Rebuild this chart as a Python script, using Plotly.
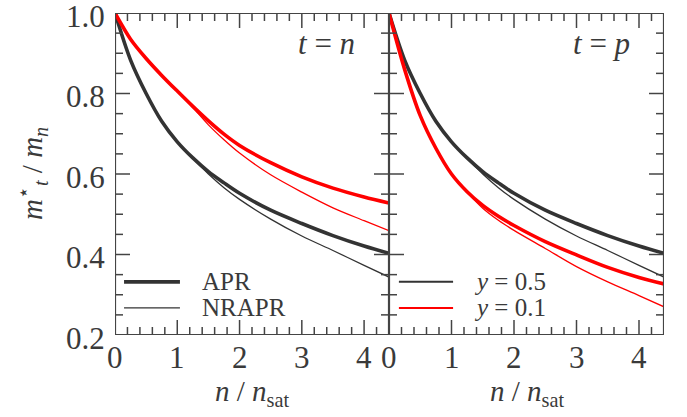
import plotly.graph_objects as go

# density grid n / n_sat
density = [0, 0.25, 0.5, 0.75, 1, 1.25, 1.5, 1.75, 2, 2.5, 3, 3.5, 4, 4.4]

# effective mass ratios, symmetric matter (y = 0.5): identical for t = n and t = p
apr_sym = [1.0, 0.883, 0.80, 0.731, 0.68, 0.64, 0.606, 0.578, 0.552, 0.51, 0.477, 0.447, 0.421, 0.403]
nrapr_sym = [1.0, 0.883, 0.80, 0.731, 0.679, 0.639, 0.60, 0.566, 0.537, 0.488, 0.446, 0.41, 0.373, 0.344]

# neutron-rich matter (y = 0.1)
apr_n_y01 = [1.0, 0.935, 0.887, 0.845, 0.806, 0.768, 0.732, 0.699, 0.671, 0.628, 0.593, 0.565, 0.543, 0.528]
nrapr_n_y01 = [1.0, 0.935, 0.887, 0.845, 0.805, 0.765, 0.722, 0.685, 0.652, 0.598, 0.555, 0.516, 0.484, 0.459]
apr_p_y01 = [1.0, 0.86, 0.745, 0.664, 0.60, 0.556, 0.522, 0.495, 0.472, 0.432, 0.399, 0.368, 0.343, 0.327]
nrapr_p_y01 = [1.0, 0.86, 0.745, 0.664, 0.60, 0.555, 0.515, 0.485, 0.46, 0.415, 0.37, 0.332, 0.298, 0.27]

x_ticks = [0, 1, 2, 3, 4]
x_tick_labels = ["0", "1", "2", "3", "4"]
y_ticks = [0.2, 0.4, 0.6, 0.8, 1.0]
y_tick_labels = ["0.2", "0.4", "0.6", "0.8", "1.0"]
X_MAX = 4.4
Y_MIN, Y_MAX = 0.2, 1.0

DARK = "#333333"
RED = "#ff0000"
FRAME = "#444444"
TEXT = "#3a3a3a"
FONT = "Liberation Serif"
THICK, THIN = 3.6, 1.3

# figure geometry (pixels)
W, H = 687, 417
ML, MR, MT, MB = 115, 23, 13, 82
PLOT_W, PLOT_H = W - ML - MR, H - MT - MB
split = 274 / PLOT_W
MAJOR_LEN, MINOR_LEN = 15, 8

fig = go.Figure()

panels = [
    ("x", "y", [0, split], apr_n_y01, nrapr_n_y01, "<i>t</i> = <i>n</i>"),
    ("x2", "y2", [split, 1], apr_p_y01, nrapr_p_y01, "<i>t</i> = <i>p</i>"),
]

for xa, ya, dom, a_y01, n_y01, _ in panels:
    for vals, color, width in [
        (nrapr_sym, DARK, THIN),
        (apr_sym, DARK, THICK),
        (n_y01, RED, THIN),
        (a_y01, RED, THICK),
    ]:
        fig.add_trace(go.Scatter(
            x=density, y=vals, xaxis=xa, yaxis=ya, mode="lines",
            line=dict(color=color, width=width, shape="spline", smoothing=0.9),
            showlegend=False, hoverinfo="skip",
        ))

axis_off = dict(showline=False, ticks="", showticklabels=False, showgrid=False, zeroline=False)
fig.update_layout(
    width=W, height=H,
    margin=dict(l=ML, r=MR, t=MT, b=MB),
    plot_bgcolor="white", paper_bgcolor="white",
    font=dict(family=FONT, color=TEXT),
    showlegend=False,
    xaxis=dict(axis_off, range=[0, X_MAX], domain=[0, split], anchor="y"),
    xaxis2=dict(axis_off, range=[0, X_MAX], domain=[split, 1], anchor="y2"),
    yaxis=dict(axis_off, range=[Y_MIN, Y_MAX], anchor="x"),
    yaxis2=dict(axis_off, range=[Y_MIN, Y_MAX], anchor="x2"),
)

minor_x = [round(0.2 * k, 2) for k in range(1, 23)]
minor_y = [round(Y_MIN + 0.05 * k, 2) for k in range(1, 16)]

for xa, ya, dom, _, _, label in panels:
    xd, yd = f"{xa} domain", f"{ya} domain"
    panel_w = (dom[1] - dom[0]) * PLOT_W
    x_per_px = X_MAX / panel_w
    y_per_px = (Y_MAX - Y_MIN) / PLOT_H

    # tick marks on all four edges, as one polyline with gaps
    tx, ty = [], []
    for xv in sorted(set(minor_x + x_ticks)):
        if xv <= 0 or xv >= X_MAX:
            continue
        ln = (MAJOR_LEN if xv in x_ticks else MINOR_LEN) * y_per_px
        tx += [xv, xv, None, xv, xv, None]
        ty += [Y_MIN, Y_MIN + ln, None, Y_MAX, Y_MAX - ln, None]
    for yv in sorted(set(minor_y + y_ticks)):
        if yv <= Y_MIN or yv >= Y_MAX:
            continue
        ln = (MAJOR_LEN if yv in y_ticks else MINOR_LEN) * x_per_px
        tx += [0, ln, None, X_MAX, X_MAX - ln, None]
        ty += [yv, yv, None, yv, yv, None]
    fig.add_trace(go.Scatter(x=tx, y=ty, xaxis=xa, yaxis=ya, mode="lines",
                             line=dict(color=FRAME, width=1.5), showlegend=False,
                             hoverinfo="skip", cliponaxis=False))

    # panel frame
    fig.add_trace(go.Scatter(x=[0, X_MAX, X_MAX, 0, 0], y=[Y_MIN, Y_MIN, Y_MAX, Y_MAX, Y_MIN],
                             xaxis=xa, yaxis=ya, mode="lines",
                             line=dict(color=FRAME, width=2.2), showlegend=False,
                             hoverinfo="skip", cliponaxis=False))

    # x tick labels
    for xv, txt in zip(x_ticks, x_tick_labels):
        fig.add_annotation(xref=xa, yref=yd, x=xv, y=0, yanchor="middle", xanchor="center",
                           yshift=-22, text=txt, showarrow=False,
                           font=dict(family=FONT, size=31, color=TEXT))

    # x axis title
    fig.add_annotation(xref=xd, yref=yd, x=0.5, y=0, yanchor="middle", xanchor="center",
                       yshift=-58, text="<i>n</i> / <i>n</i><sub>sat</sub>", showarrow=False,
                       font=dict(family=FONT, size=29, color=TEXT))

    # panel label
    fig.add_annotation(xref=xd, yref=yd, x=0.885, y=0.905, xanchor="right", yanchor="middle",
                       text=label, showarrow=False, font=dict(family=FONT, size=31, color=TEXT))

# y tick labels and title on the left panel only
for yv, txt in zip(y_ticks, y_tick_labels):
    fig.add_annotation(xref="x domain", yref="y", x=0, y=yv, xanchor="right", yanchor="middle",
                       xshift=-8, yshift=-3, text=txt, showarrow=False,
                       font=dict(family=FONT, size=31, color=TEXT))
fig.add_annotation(xref="x domain", yref="y domain", x=0, y=0.5, xanchor="center", yanchor="middle",
                   xshift=-83, textangle=-90,
                   text="<i>m</i><sup>⋆</sup><sub><i>t</i></sub> / <i>m</i><sub><i>n</i></sub>",
                   showarrow=False, font=dict(family=FONT, size=29, color=TEXT))

# legend keys drawn inside each panel
legend_rows = [
    ("x domain", "y domain", 0.033, 0.237, 0.31, 0.165, DARK, THICK, "APR"),
    ("x domain", "y domain", 0.033, 0.237, 0.31, 0.084, DARK, THIN, "NRAPR"),
    ("x2 domain", "y2 domain", 0.036, 0.233, 0.30, 0.165, DARK, 2.0, "<i>y</i> = 0.5"),
    ("x2 domain", "y2 domain", 0.036, 0.233, 0.30, 0.084, RED, 2.0, "<i>y</i> = 0.1"),
]
for xref, yref, x0, x1, xt, yy, color, width, text in legend_rows:
    fig.add_shape(type="line", xref=xref, yref=yref, x0=x0, x1=x1, y0=yy, y1=yy,
                  line=dict(color=color, width=width))
    fig.add_annotation(xref=xref, yref=yref, x=xt, y=yy, xanchor="left", yanchor="middle",
                       text=text, showarrow=False, font=dict(family=FONT, size=25, color=TEXT))

fig.write_html("out.html")
